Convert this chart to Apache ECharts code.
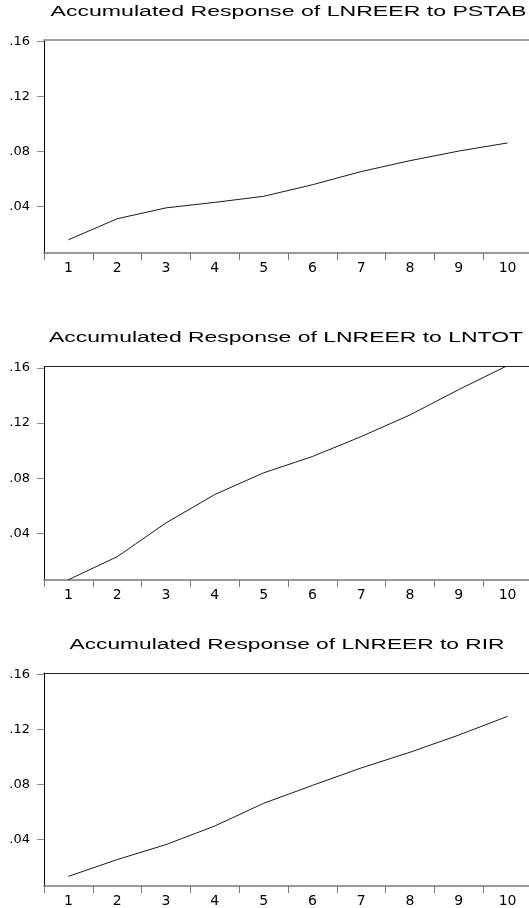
<!DOCTYPE html>
<html>
<head>
<meta charset="utf-8">
<script src="https://cdn.jsdelivr.net/npm/echarts@6/dist/echarts.min.js"></script>
<style>
html,body{margin:0;padding:0;background:#fff;overflow:hidden;width:529px;height:908px;}
#chart{width:560px;height:908px;}
</style>
</head>
<body>
<div id="chart"></div>
<script>
// ---- data ----
const categories = ['1','2','3','4','5','6','7','8','9','10'];
const pstab = [0.0158, 0.0311, 0.0390, 0.0430, 0.0474, 0.0558, 0.0654, 0.0733, 0.0803, 0.0862];
const lntot = [0.0064, 0.0231, 0.0476, 0.0682, 0.0839, 0.0957, 0.1102, 0.1259, 0.1443, 0.1617];
const rir   = [0.0132, 0.0254, 0.0363, 0.0498, 0.0663, 0.0793, 0.0920, 0.1034, 0.1159, 0.1295];
const yTickValues = [0.04, 0.08, 0.12, 0.16];
const titles = [
  'Accumulated Response of LNREER to PSTAB',
  'Accumulated Response of LNREER to LNTOT',
  'Accumulated Response of LNREER to RIR'
];
const seriesList = [pstab, lntot, rir];

// ---- layout ----
const gridTops = [40, 366.5, 673];
const gridHeights = [213, 213.5, 214];
const gridLeft = 44;
const gridWidth = 488;
const titleCenters = [[288.5, 12], [286, 338], [287, 645]];
const titleWidths = [476, 474, 435];
const titleFont = '15.5px "Liberation Sans", Arial, sans-serif';

const meas = document.createElement('canvas').getContext('2d');
meas.font = titleFont;

const chart = echarts.init(document.getElementById('chart'), null, {renderer: 'canvas'});

const grids = [], xAxes = [], yAxes = [], series = [], graphics = [];
for (let i = 0; i < 3; i++) {
  grids.push({left: gridLeft, top: gridTops[i], width: gridWidth, height: gridHeights[i], containLabel: false});
  // bottom category axis
  xAxes.push({
    type: 'category', gridIndex: i, data: categories, boundaryGap: true, position: 'bottom',
    axisLine: {show: true, lineStyle: {color: '#777', width: 1.5}},
    axisTick: {show: true, length: 7, lineStyle: {color: '#777', width: 1}},
    axisLabel: {color: '#000', fontSize: 14, fontFamily: '"DejaVu Sans", sans-serif', margin: 8},
    splitLine: {show: false}
  });
  // top border
  xAxes.push({
    type: 'category', gridIndex: i, data: categories, position: 'top',
    axisLine: {show: true, lineStyle: {color: i === 0 ? '#888' : '#222', width: i === 0 ? 1.5 : 1}},
    axisTick: {show: false}, axisLabel: {show: false}, splitLine: {show: false}
  });
  yAxes.push({
    type: 'value', gridIndex: i, min: 0.0062, max: 0.161,
    axisLine: {show: true, onZero: false, lineStyle: {color: '#000', width: 1}},
    axisTick: {show: true, length: 7, customValues: yTickValues, lineStyle: {color: '#888', width: 1}},
    axisLabel: {
      show: true, customValues: yTickValues, color: '#000', fontSize: 13,
      fontFamily: '"DejaVu Sans", sans-serif', margin: 14,
      formatter: v => v.toFixed(2).replace(/^0/, '')
    },
    splitLine: {show: false}
  });
  series.push({
    type: 'line', xAxisIndex: i * 2, yAxisIndex: i, data: seriesList[i],
    showSymbol: false, symbol: 'none', smooth: false,
    lineStyle: {color: '#1a1a1a', width: 1}, silent: true, animation: false
  });
  const w = meas.measureText(titles[i]).width;
  graphics.push({
    type: 'text', x: titleCenters[i][0], y: titleCenters[i][1],
    scaleX: titleWidths[i] / w, scaleY: 1,
    style: {text: titles[i], font: titleFont, fill: '#000', align: 'center', verticalAlign: 'middle'}
  });
}

chart.setOption({
  animation: false,
  backgroundColor: '#fff',
  grid: grids,
  xAxis: xAxes,
  yAxis: yAxes,
  series: series,
  graphic: graphics
});
</script>
</body>
</html>
